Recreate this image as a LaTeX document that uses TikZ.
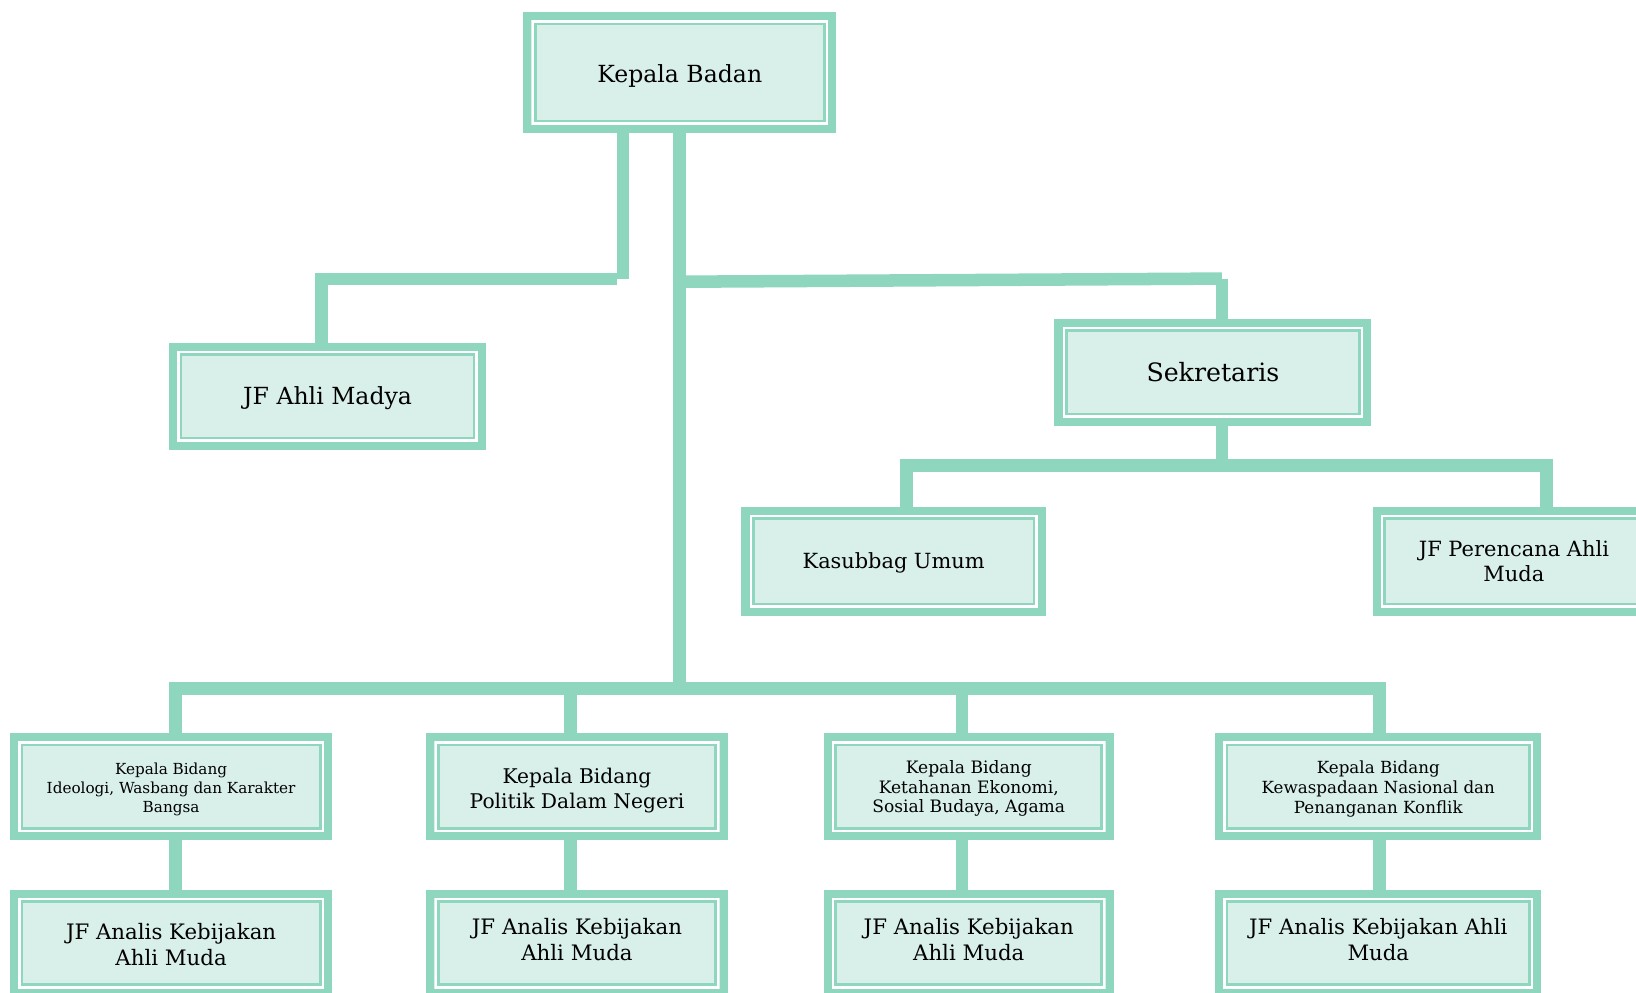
\documentclass[tikz,border=0pt]{standalone}
\usepackage{fontspec}
\setmainfont{DejaVu Serif}
\definecolor{mint}{RGB}{142,214,190}
\definecolor{mintfill}{RGB}{216,240,233}
\newcommand\txtdown[2]{\raisebox{-#1}[\height][\depth]{\begin{tabular}{@{}c@{}}#2\end{tabular}}}
\begin{document}
\begin{tikzpicture}[x=0.5pt,y=-0.5pt,
  box/.style={draw=mint, line width=3.9pt, fill=mintfill, align=center, inner sep=0pt,
    path picture={
      \draw[white, line width=1.2pt]
        ([shift={(2.6pt,2.6pt)}]path picture bounding box.south west) rectangle
        ([shift={(-2.6pt,-2.6pt)}]path picture bounding box.north east);
      \draw[mint, line width=1.3pt]
        ([shift={(3.8pt,3.8pt)}]path picture bounding box.south west) rectangle
        ([shift={(-3.8pt,-3.8pt)}]path picture bounding box.north east);
    }},
  big/.style={font=\fontsize{11.3}{12.6}\selectfont},
  analis/.style={font=\fontsize{10.2}{12.4}\selectfont},
  conn/.style={draw=mint, line width=6pt}]
\useasboundingbox (0,0) rectangle (1568,951.7);
\begin{scope}
\clip (0,0) rectangle (1568,951.7);
% nodes
\node[box,big, minimum width=146pt, minimum height=54pt] (kb) at (651.5,69.5) {\txtdown{2.2pt}{Kepala Badan}};
\node[box,big, minimum width=148pt, minimum height=47.5pt] (ahli) at (314,380) {\txtdown{1.3pt}{JF Ahli Madya}};
\node[box,font=\fontsize{12.1}{14}\selectfont, minimum width=148pt, minimum height=47.5pt] (sek) at (1162.5,357) {\txtdown{1.6pt}{Sekretaris}};
\node[box,font=\fontsize{10}{12}\selectfont, minimum width=142pt, minimum height=48.5pt] (kas) at (856.5,538) {\txtdown{1pt}{Kasubbag Umum}};
\node[box,font=\fontsize{10.05}{12}\selectfont, minimum width=131.5pt, minimum height=48.5pt] (per) at (1451,538) {JF Perencana Ahli\\Muda};
\node[box,font=\fontsize{7.3}{9}\selectfont, minimum width=150.5pt, minimum height=47.5pt] (b1) at (164,754) {\txtdown{1.5pt}{Kepala Bidang\\Ideologi, Wasbang dan Karakter\\Bangsa}};
\node[box,font=\fontsize{9.7}{12}\selectfont, minimum width=140.5pt, minimum height=47.5pt] (b2) at (553,754) {\txtdown{2pt}{Kepala Bidang\\Politik Dalam Negeri}};
\node[box,font=\fontsize{8.2}{9.5}\selectfont, minimum width=135pt, minimum height=47.5pt] (b3) at (928.5,754) {\txtdown{1.2pt}{Kepala Bidang\\Ketahanan Ekonomi,\\Sosial Budaya, Agama}};
\node[box,font=\fontsize{8}{9.6}\selectfont, minimum width=152.5pt, minimum height=47.5pt] (b4) at (1321,754) {\txtdown{1.2pt}{Kepala Bidang\\Kewaspadaan Nasional dan\\Penanganan Konflik}};
\node[box,analis, minimum width=150.5pt, minimum height=47.5pt] (a1) at (164,904) {\txtdown{2pt}{JF Analis Kebijakan\\Ahli Muda}};
\node[box,analis, minimum width=140.5pt, minimum height=47.5pt] (a2) at (553,904) {\txtdown{-0.5pt}{JF Analis Kebijakan\\Ahli Muda}};
\node[box,analis, minimum width=135pt, minimum height=47.5pt] (a3) at (928.5,904) {\txtdown{-0.5pt}{JF Analis Kebijakan\\Ahli Muda}};
\node[box,font=\fontsize{10.15}{12.4}\selectfont, minimum width=152.5pt, minimum height=47.5pt] (a4) at (1321,904) {\txtdown{-0.5pt}{JF Analis Kebijakan Ahli\\Muda}};
% junction coordinates
\coordinate (jl) at (597,267.5);
\coordinate (jlend) at (591,267.5);
\coordinate (jr) at (1171,267);
\coordinate (js) at (1171,446);
\coordinate (jb) at (651,660);
% connectors
\draw[conn] (jl |- kb.south) -- (jl);
\draw[conn] (jlend) -- (308,267.5) -- (308,0 |- ahli.north);
\draw[conn] (jb |- kb.south) -- (jb);
\draw[conn] (655,270) -- (jr);
\draw[conn] (jr) -- (jr |- sek.north);
\draw[conn] (js |- sek.south) -- (js);
\draw[conn] (869,0 |- kas.north) -- (869,446) -- (1482,446) -- (1482,0 |- per.north);
\draw[conn] (168,0 |- b1.north) -- (168,660) -- (1322,660) -- (1322,0 |- b4.north);
\draw[conn] (547,660) -- (547,0 |- b2.north);
\draw[conn] (922,660) -- (922,0 |- b3.north);
\draw[conn] (168,0 |- b1.south) -- (168,0 |- a1.north);
\draw[conn] (547,0 |- b2.south) -- (547,0 |- a2.north);
\draw[conn] (922,0 |- b3.south) -- (922,0 |- a3.north);
\draw[conn] (1322,0 |- b4.south) -- (1322,0 |- a4.north);
\end{scope}
\end{tikzpicture}
\end{document}
